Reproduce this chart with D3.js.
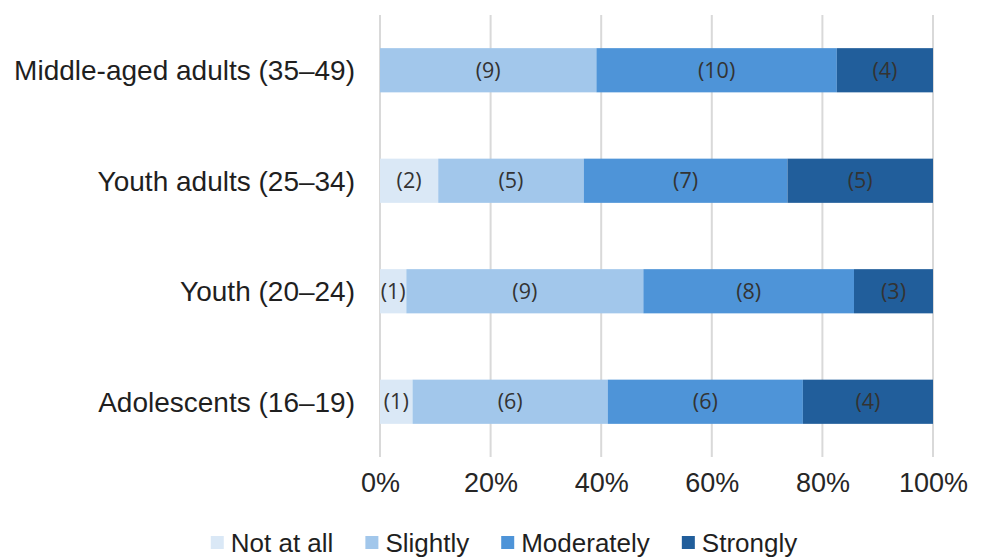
<!DOCTYPE html>
<html>
<head>
<meta charset="utf-8">
<script src="https://cdn.jsdelivr.net/npm/d3@7"></script>
<style>
  html, body { margin: 0; padding: 0; background: #fff; }
  svg { display: block; }
</style>
</head>
<body>
<svg id="chart" width="981" height="559"></svg>
<script>
// Age groups, top to bottom
const categories = [
  "Middle-aged adults (35–49)",
  "Youth adults (25–34)",
  "Youth (20–24)",
  "Adolescents (16–19)"
];
// Response levels (stack order, left to right)
const levels = ["Not at all", "Slightly", "Moderately", "Strongly"];
// Counts per level for each age group, same order as categories
const notAtAll   = [0, 2, 1, 1];
const slightly   = [9, 5, 9, 6];
const moderately = [10, 7, 8, 6];
const strongly   = [4, 5, 3, 4];
const tickLabels = ["0%", "20%", "40%", "60%", "80%", "100%"];
const colors = ["#dae8f6", "#a2c7eb", "#4e94d8", "#215e9b"];

const series = [notAtAll, slightly, moderately, strongly];
const rows = categories.map((c, i) => {
  const r = { category: c };
  levels.forEach((l, j) => { r[l] = series[j][i]; });
  r.total = d3.sum(series, s => s[i]);
  return r;
});

const svg = d3.select("#chart");
const x = d3.scaleLinear().domain([0, 1]).range([380, 933]);
const y = d3.scaleBand().domain(categories).range([15, 457])
  .paddingInner(0.6).paddingOuter(0.3);

// vertical gridlines
svg.append("g")
  .selectAll("line")
  .data(d3.range(0, 1.0001, 0.2))
  .join("line")
  .attr("x1", d => x(d)).attr("x2", d => x(d))
  .attr("y1", 15).attr("y2", 457)
  .attr("stroke", "#d9d9d9").attr("stroke-width", 2);

// stacked shares
const stack = d3.stack()
  .keys(levels)
  .value((d, k) => d[k] / d.total);
const layers = stack(rows);

const g = svg.append("g");
layers.forEach((layer, li) => {
  const lg = g.append("g");
  lg.selectAll("rect")
    .data(layer)
    .join("rect")
    .attr("x", d => x(d[0]))
    .attr("width", d => x(d[1]) - x(d[0]))
    .attr("y", d => y(d.data.category))
    .attr("height", y.bandwidth())
    .attr("fill", colors[li]);
  lg.selectAll("text")
    .data(layer.filter(d => d.data[levels[li]] > 0))
    .join("text")
    .attr("x", d => (x(d[0]) + x(d[1])) / 2)
    .attr("y", d => y(d.data.category) + y.bandwidth() / 2)
    .attr("dy", "0.35em")
    .attr("text-anchor", "middle")
    .attr("font-family", "'Open Sans', 'Noto Sans', sans-serif")
    .attr("font-size", 21.5)
    .attr("fill", "#333")
    .text(d => `(${d.data[levels[li]]})`);
});

// category labels
svg.append("g")
  .selectAll("text")
  .data(categories)
  .join("text")
  .attr("x", 355)
  .attr("y", d => y(d) + y.bandwidth() / 2)
  .attr("dy", "0.35em")
  .attr("text-anchor", "end")
  .attr("font-family", "'Liberation Sans', Arial, sans-serif")
  .attr("font-size", 28)
  .attr("fill", "#1f1f1f")
  .text(d => d);

// x axis labels
const xAxis = d3.axisBottom(x)
  .tickValues(d3.range(0, 1.0001, 0.2))
  .tickFormat((d, i) => tickLabels[i])
  .tickSize(0).tickPadding(0);
const ax = svg.append("g").attr("transform", "translate(0,473)").call(xAxis);
ax.select(".domain").remove();
ax.selectAll("text")
  .attr("dy", "0.71em")
  .attr("font-family", "'Liberation Sans', Arial, sans-serif")
  .attr("font-size", 27)
  .attr("fill", "#262626");

// legend
const legend = svg.append("g");
const items = legend.selectAll("g").data(levels).join("g");
items.append("rect")
  .attr("width", 13).attr("height", 13)
  .attr("y", -7)
  .attr("fill", (d, i) => colors[i]);
items.append("text")
  .attr("x", 20)
  .attr("dy", "0.35em")
  .attr("font-family", "'Liberation Sans', Arial, sans-serif")
  .attr("font-size", 26)
  .attr("fill", "#1f1f1f")
  .text(d => d);
let offs = 0;
const gap = 32;
const widths = [];
items.each(function () {
  const w = 20 + d3.select(this).select("text").node().getComputedTextLength();
  widths.push(w);
});
const totalW = d3.sum(widths) + gap * (widths.length - 1);
const startX = 504 - totalW / 2;
items.attr("transform", (d, i) => {
  const t = `translate(${startX + offs},543)`;
  offs += widths[i] + gap;
  return t;
});
</script>
</body>
</html>
